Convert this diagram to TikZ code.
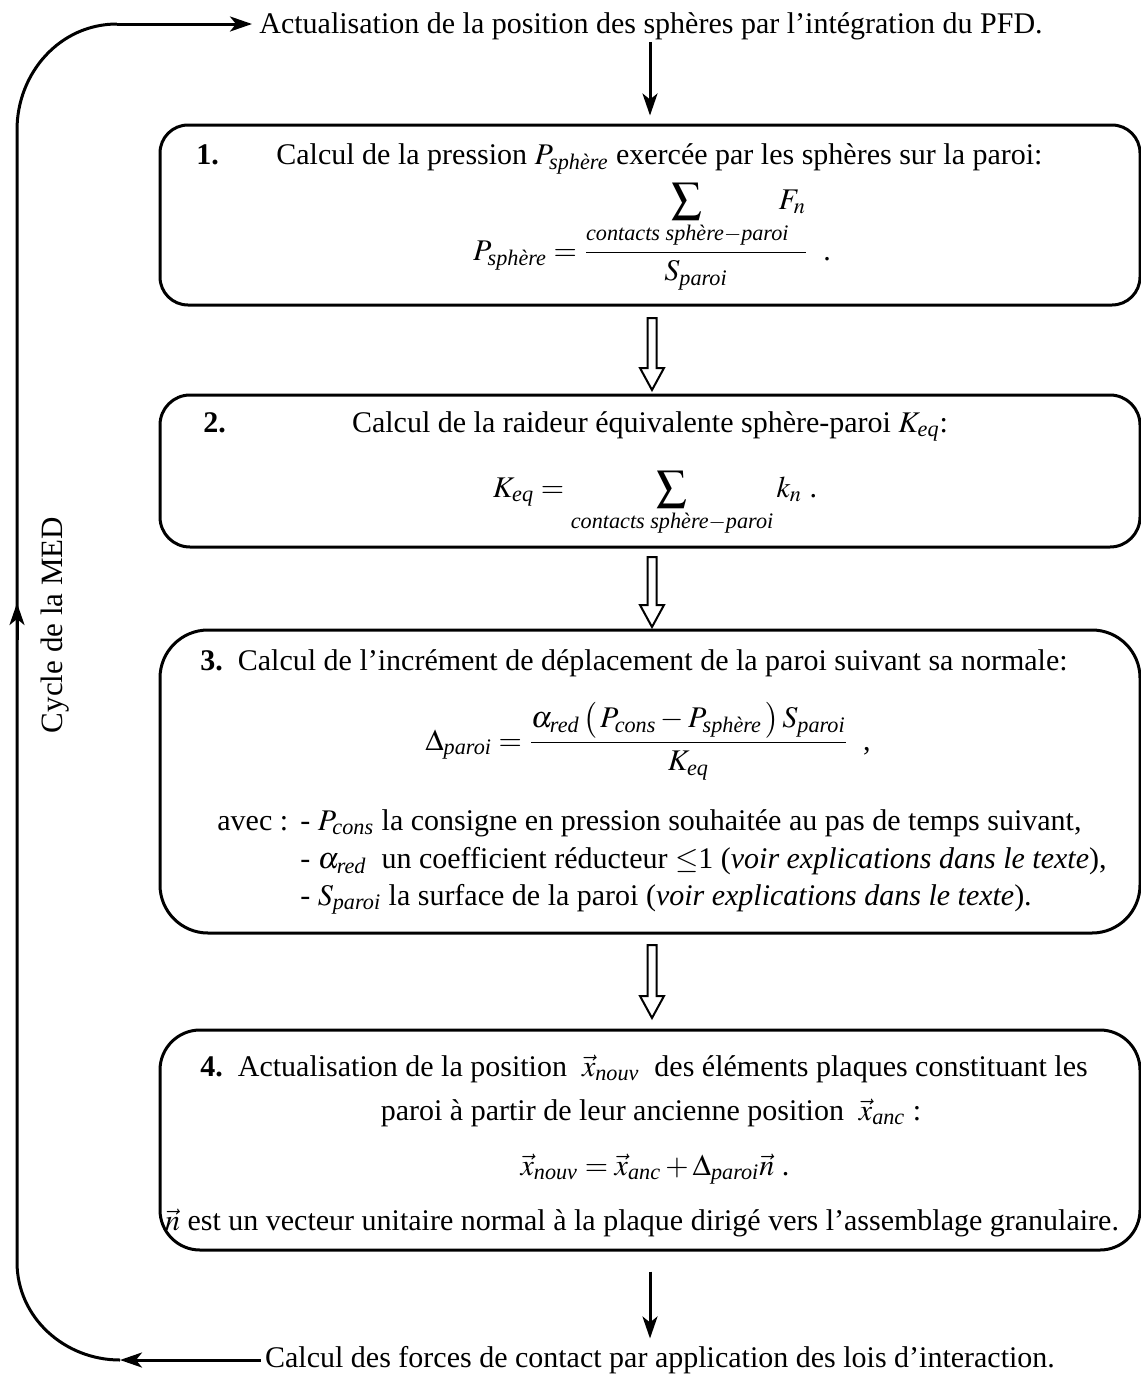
\documentclass[tikz,border=0pt]{standalone}
\usepackage{amsmath}
\usepackage{mathptmx}
\usepackage[no-math]{fontspec}
\setmainfont{Liberation Serif}
\usetikzlibrary{arrows.meta}
\newcommand\fs{\fontsize{15}{18}\selectfont}
\newcommand\ti[1]{\textit{#1}}
\newcommand\hollowarrow[2]{%
  \draw[hollow] (647.5,#1) -- (656.5,#1) -- (656.5,{#2-22}) -- (664,{#2-22}) -- (652,#2)
    -- (640,{#2-22}) -- (647.5,{#2-22}) -- cycle;}
\tikzset{
  txt/.style={inner sep=0pt, font=\fs},
  box/.style={draw, line width=1.5pt, minimum width=490pt, inner sep=0pt},
  arr/.style={line width=1.5pt, -{Stealth[length=11pt,width=7.5pt,inset=3pt]}},
  hollow/.style={line width=1pt, line join=miter},
  loopline/.style={line width=1.5pt}
}
\begin{document}
\begin{tikzpicture}[x=0.5pt,y=-0.5pt]
\useasboundingbox (0,0) rectangle (1141,1377);
% boxes
\node[box, minimum height=90pt, rounded corners=14pt] (box1) at (650,215) {};
\node[box, minimum height=76pt, rounded corners=15pt] (box2) at (650,471) {};
\node[box, minimum height=151.5pt, rounded corners=24pt] (box3) at (650,781.5) {};
\node[box, minimum height=110pt, rounded corners=20pt] (box4) at (650,1140) {};
% top and bottom texts
\node[txt, anchor=base] (top) at (651,33) {Actualisation de la position des sphères par l’intégration du PFD.};
\node[txt, anchor=base] (bot) at (660,1367) {Calcul des forces de contact par application des lois d’interaction.};
% cycle label
\node[inner sep=0pt, font=\fontsize{15.5}{18}\selectfont, rotate=90] (cyc) at (55,625) {Cycle de la MED};
% box 1
\node[txt, anchor=base west] (n1) at (196,164) {\textbf{1.}};
\node[txt, anchor=base west] (t1) at (276,164) {Calcul de la pression $P_{\ti{sphère}}$ exercée par les sphères sur la paroi:};
\node[txt, anchor=base] (f1) at (652,260) {$P_{\ti{sphère}} = \dfrac{\displaystyle\sum_{\ti{contacts sphère}-\ti{paroi}}\!\!\!\! F_n}{S_{\ti{paroi}}}$\ \ .};
% box 2
\node[txt, anchor=base west] (n2) at (203,432) {\textbf{2.}};
\node[txt, anchor=base] (t2) at (650,432) {Calcul de la raideur équivalente sphère-paroi $K_{\ti{eq}}$:};
\node[txt, anchor=base] (f2) at (655,497) {$\displaystyle K_{\ti{eq}} = \sum_{\ti{contacts sphère}-\ti{paroi}} k_n$\ .};
% box 3
\node[txt, anchor=base west] (t3) at (200,670) {\textbf{3.}\ \ Calcul de l’incrément de déplacement de la paroi suivant sa normale:};
\node[txt, anchor=base] (f3) at (648,750) {$\Delta_{\ti{paroi}} = \dfrac{\alpha_{\ti{red}}\,\bigl(\,P_{\ti{cons}} - P_{\ti{sphère}}\,\bigr)\,S_{\ti{paroi}}}{K_{\ti{eq}}}$\ \ ,};
\node[txt, anchor=base west] (avec) at (217,830) {avec :};
\node[txt, anchor=base west] (b1) at (300,830) {- $P_{\ti{cons}}$ la consigne en pression souhaitée au pas de temps suivant,};
\node[txt, anchor=base west] (b2) at (300,868) {- $\alpha_{\ti{red}}$\ \ un coefficient réducteur $\leq$1 (\textit{voir explications dans le texte}),};
\node[txt, anchor=base west] (b3) at (300,905) {- $S_{\ti{paroi}}$ la surface de la paroi (\textit{voir explications dans le texte}).};
% box 4
\node[txt, anchor=base west] (t4) at (200,1076) {\textbf{4.}\ \ Actualisation de la position\ \ $\vec{x}_{\ti{nouv}}$\ \ des éléments plaques constituant les};
\node[txt, anchor=base] (t4b) at (651,1120) {paroi à partir de leur ancienne position\ \ $\vec{x}_{\ti{anc}}$ :};
\node[txt, anchor=base] (f4) at (655,1175) {$\vec{x}_{\ti{nouv}} = \vec{x}_{\ti{anc}} + \Delta_{\ti{paroi}}\vec{n}$\ .};
\node[txt, anchor=base] (t4c) at (642,1230) {$\vec{n}$ est un vecteur unitaire normal à la plaque dirigé vers l’assemblage granulaire.};
% straight arrows
\draw[arr, shorten <=1pt, shorten >=4pt] (top.south -| box1.north) -- (box1.north);
\draw[arr, shorten <=10pt, shorten >=3.5pt] (box4.south) -- (bot.north -| box4.south);
% hollow arrows
\hollowarrow{318}{390}
\hollowarrow{557}{627}
\hollowarrow{945}{1018}
% cycle loop
\coordinate (lb) at (120,1360);
\coordinate (lt) at (117,24);
\draw[arr, shorten <=2pt] (bot.west |- lb) -- (lb);
\draw[loopline] (lb) to[out=180,in=-90] (17,1262) -- (17,130) to[out=90,in=180] (lt);
\draw[arr, shorten >=3.5pt] (lt) -- (top.west |- lt);
\draw[arr] (17,640) -- (17,603);
\end{tikzpicture}
\end{document}
